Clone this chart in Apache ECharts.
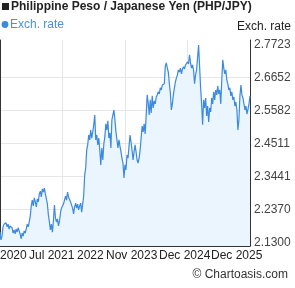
<!DOCTYPE html>
<html><head><meta charset="utf-8">
<script src="https://cdn.jsdelivr.net/npm/echarts@6/dist/echarts.min.js"></script>
<style>html,body{margin:0;padding:0;background:#fff}#c{width:295px;height:288px}</style>
</head><body><div id="c"></div>
<script>
const chartTitle = 'Philippine Peso / Japanese Yen (PHP/JPY)';
const seriesName = 'Exch. rate';
const xTickLabels = ['2020', 'Jul 2021', '2022', 'Nov 2023', 'Dec 2024', 'Dec 2025'];
const yTickLabels = ['2.1300', '2.2370', '2.3441', '2.4511', '2.5582', '2.6652', '2.7723'];
const copyright = '\u00A9 Chartoasis.com';
const startDate = '2020-01-01';
const endDate = '2025-12-31';
const rates = [
 2.163,2.138,2.150,2.180,2.189,2.183,2.193,2.180,2.189,2.173,
 2.183,2.189,2.177,2.160,2.170,2.157,2.173,2.163,2.177,2.167,
 2.157,2.141,2.160,2.150,2.167,2.160,2.173,2.189,2.180,2.196,
 2.215,2.248,2.267,2.248,2.274,2.261,2.245,2.271,2.261,2.287,
 2.296,2.277,2.303,2.293,2.306,2.287,2.271,2.254,2.219,2.196,
 2.170,2.189,2.163,2.199,2.251,2.209,2.196,2.206,2.183,2.199,
 2.225,2.241,2.235,2.254,2.267,2.280,2.267,2.293,2.277,2.274,
 2.261,2.267,2.241,2.222,2.245,2.257,2.241,2.254,2.235,2.248,
 2.257,2.228,2.225,2.280,2.348,2.371,2.429,2.446,2.478,2.462,
 2.494,2.468,2.488,2.511,2.543,2.462,2.478,2.446,2.468,2.429,
 2.381,2.436,2.397,2.449,2.472,2.514,2.494,2.524,2.468,2.485,
 2.436,2.527,2.543,2.559,2.527,2.488,2.462,2.436,2.462,2.442,
 2.423,2.403,2.387,2.339,2.381,2.365,2.413,2.403,2.442,2.478,
 2.455,2.429,2.397,2.423,2.446,2.423,2.397,2.387,2.403,2.429,
 2.468,2.507,2.488,2.514,2.481,2.540,2.608,2.582,2.543,2.592,
 2.549,2.605,2.566,2.588,2.579,2.601,2.608,2.618,2.611,2.631,
 2.624,2.640,2.634,2.644,2.702,2.712,2.695,2.682,2.644,2.614,
 2.559,2.579,2.608,2.631,2.650,2.663,2.673,2.689,2.682,2.695,
 2.676,2.692,2.699,2.692,2.705,2.699,2.715,2.708,2.738,2.712,
 2.695,2.705,2.689,2.644,2.673,2.689,2.728,2.770,2.702,2.631,
 2.579,2.511,2.592,2.566,2.598,2.540,2.572,2.520,2.566,2.553,
 2.598,2.579,2.618,2.592,2.624,2.608,2.637,2.611,2.624,2.579,
 2.657,2.722,2.695,2.676,2.689,2.657,2.644,2.624,2.631,2.605,
 2.618,2.592,2.601,2.572,2.585,2.559,2.494,2.527,2.605,2.640,
 2.608,2.598,2.579,2.559,2.572,2.546,2.562,2.579,2.605
];

// category dates, evenly spread over the chart's period
const categories = [];
(function(){
  const t0 = Date.parse(startDate), t1 = Date.parse(endDate);
  const n = rates.length;
  for (let i = 0; i < n; i++) {
    categories.push(new Date(t0 + (t1 - t0) * i / (n - 1)).toISOString().slice(0, 10));
  }
})();

const FONT = '"Liberation Sans", Arial, sans-serif';
const yVals = yTickLabels.map(Number);
const yInner = yVals.slice(1, -1);
const yMin = 2.118, yMax = 2.786;
const lineColor = '#3b8ae0';

const xLabelLeft = [0, 29, 77, 106, 159, 211];
const graphics = [
  {type:'rect', shape:{x:2, y:3, width:7, height:7}, style:{fill:'#222'}},
  {type:'text', x:11, y:7, style:{text:chartTitle, font:'bold 12px ' + FONT, fill:'#222', textVerticalAlign:'middle', verticalAlign:'middle'}},
  {type:'circle', shape:{cx:5, cy:24.5, r:3.4}, style:{fill:lineColor}},
  {type:'text', x:10, y:25, style:{text:seriesName, font:'12px ' + FONT, fill:'#4a90e2', textVerticalAlign:'middle', verticalAlign:'middle'}},
  {type:'text', x:291, y:26.5, style:{text:seriesName, font:'12px ' + FONT, fill:'#222', textAlign:'right', align:'right', textVerticalAlign:'middle', verticalAlign:'middle'}},
  {type:'text', x:288, y:275, style:{text:copyright, font:'12px ' + FONT, fill:'#333', textAlign:'right', align:'right', textVerticalAlign:'middle', verticalAlign:'middle'}}
];
xTickLabels.forEach((t, i) => {
  graphics.push({type:'text', x:xLabelLeft[i], y:255.5, style:{text:t, font:'12px ' + FONT, fill:'#222', textVerticalAlign:'middle', verticalAlign:'middle'}});
});

const chart = echarts.init(document.getElementById('c'), null, {renderer:'canvas'});
chart.setOption({
  animation:false,
  backgroundColor:'#fff',
  grid:{left:0, right:45, top:40, bottom:42, containLabel:false},
  xAxis:{type:'category', data:categories, boundaryGap:false,
    axisLine:{show:true, onZero:false, lineStyle:{color:'#333', width:1}},
    axisTick:{show:false}, axisLabel:{show:false},
    splitLine:{show:true, interval:61, lineStyle:{color:'#e6e6e6', width:1}}},
  yAxis:[
    {type:'value', position:'right', min:yMin, max:yMax,
     axisLine:{show:true, onZero:false, lineStyle:{color:'#333', width:1}},
     axisTick:{show:false, customValues:yInner},
     axisLabel:{customValues:yVals, formatter:v => v.toFixed(4), margin:4, color:'#444', fontSize:12, fontFamily:FONT},
     splitLine:{show:true, lineStyle:{color:'#e6e6e6', width:1}}},
    {type:'value', position:'left', min:yMin, max:yMax,
     axisLine:{show:true, onZero:false, lineStyle:{color:'#333', width:1}},
     axisTick:{show:false}, axisLabel:{show:false}, splitLine:{show:false}}
  ],
  series:[{name:seriesName, type:'line', data:rates, symbol:'none', showSymbol:false,
    lineStyle:{color:lineColor, width:1.2}, itemStyle:{color:lineColor},
    areaStyle:{color:'#ebf5fe', opacity:1}}],
  graphic:graphics
});
</script></body></html>
